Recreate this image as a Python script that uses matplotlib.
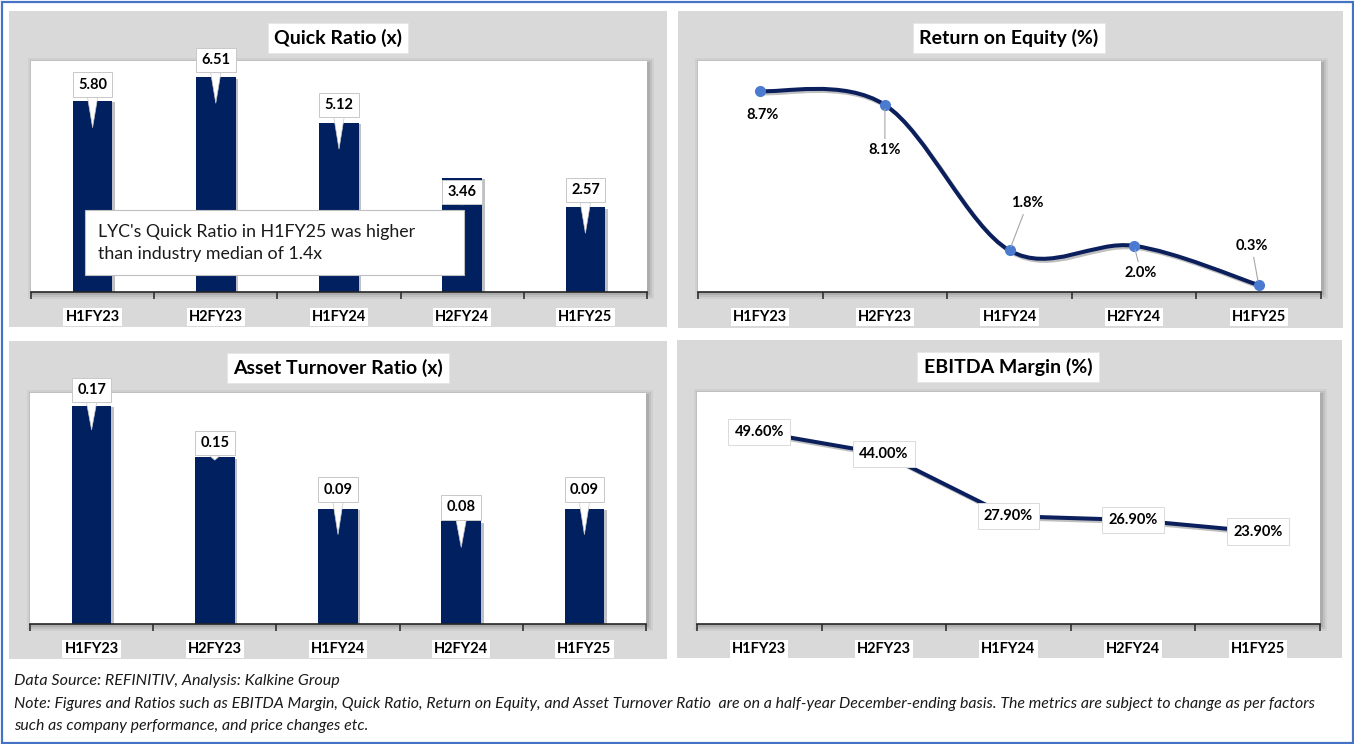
import numpy as np
import matplotlib
matplotlib.use('Agg')  # headless
import matplotlib.pyplot as plt
from matplotlib.patches import Rectangle, PathPatch
from matplotlib.path import Path
from matplotlib.transforms import Affine2D, offset_copy
import matplotlib.patheffects as pe

plt.rcParams['font.family'] = ['Lato', 'DejaVu Sans']

# ---------------------------
# Data
# ---------------------------
periods = ['H1FY23', 'H2FY23', 'H1FY24', 'H2FY24', 'H1FY25']
quick_ratio = [5.80, 6.51, 5.12, 3.46, 2.57]
return_on_equity = [8.7, 8.1, 1.8, 2.0, 0.3]
asset_turnover = [0.17, 0.13, 0.09, 0.08, 0.09]          # bar heights as drawn
asset_turnover_labels = ['0.17', '0.15', '0.09', '0.08', '0.09']
ebitda_margin = [49.6, 44.0, 27.9, 26.9, 23.9]

quick_note = "LYC's Quick Ratio in H1FY25 was higher\nthan industry median of 1.4x"
source_line = 'Data Source: REFINITIV, Analysis: Kalkine Group'
note_lines = [
    'Note: Figures and Ratios such as EBITDA Margin, Quick Ratio, Return on Equity, and Asset Turnover Ratio  '
    'are on a half-year December-ending basis. The metrics are subject to change as per factors',
    'such as company performance, and price changes etc.',
]

# ---------------------------
# Style
# ---------------------------
NAVY = '#002060'
LINE_NAVY = '#0A1F5C'
PANEL_GRAY = '#D9D9D9'
MARKER_BLUE = '#4A7BD0'
BORDER_BLUE = '#4472C4'
BOX_EDGE = '#C8C8C8'
LABEL_SIZE = 10.5

W, H = 1354, 744
fig = plt.figure(figsize=(W / 100, H / 100), dpi=100)
fig.patch.set_facecolor('white')
# pixel coords, origin top-left
pix = Affine2D().scale(1 / W, -1 / H).translate(0, 1) + fig.transFigure


def add_axes_px(l, t, r, b):
    return fig.add_axes([l / W, 1 - b / H, (r - l) / W, (b - t) / H])


def panel(box, plot_box, title, title_xy):
    l, t, r, b = box
    fig.add_artist(Rectangle((l, t), r - l, b - t, transform=pix,
                             fc=PANEL_GRAY, ec='none', zorder=-5))
    pl, pt, pr, pb = plot_box
    # soft shadow round the plot area
    for k, a in [(5, 0.08), (3, 0.12), (1, 0.18)]:
        fig.add_artist(Rectangle((pl - k + 2, pt - k + 2), pr - pl + 2 * k, pb - pt + 2 * k,
                                 transform=pix, fc='#5A5A5A', ec='none', alpha=a, zorder=-4))
    fig.text(title_xy[0], title_xy[1], title, transform=pix, ha='center', va='center',
             fontsize=14, fontweight='bold', color='black', zorder=3,
             bbox=dict(boxstyle='square,pad=0.32', fc='white', ec='#E6E6E6', lw=0.6))
    ax = add_axes_px(*plot_box)
    ax.set_facecolor('white')
    return ax


def style_axis(ax, ylim):
    ax.set_xlim(-0.5, 4.5)
    ax.set_ylim(*ylim)
    for s in ['top', 'left', 'right']:
        ax.spines[s].set_visible(False)
    ax.spines['bottom'].set_color('#262626')
    ax.spines['bottom'].set_linewidth(1.2)
    ax.set_yticks([])
    ax.set_xticks(range(len(periods)))
    ax.set_xticklabels(periods, fontsize=10.5, fontweight='bold')
    ax.set_xticks(np.arange(-0.5, len(periods), 1), minor=True)
    ax.tick_params(axis='x', which='major', length=0, pad=13)
    ax.tick_params(axis='x', which='minor', length=5, width=1.1, color='#262626')
    for lbl in ax.get_xticklabels():
        lbl.set_bbox(dict(fc='white', ec='none', pad=1.5))


def bar_callouts(ax, values, labels, above_px, depth_px):
    for i, (v, lbl, up, dn) in enumerate(zip(values, labels, above_px, depth_px)):
        tip = offset_copy(ax.transData, fig=fig, x=0, y=-dn * 0.72, units='points')
        ax.annotate(lbl, xy=(i, v), xycoords=tip,
                    xytext=(0, (up + dn) * 0.72), textcoords='offset points',
                    ha='center', va='center', fontsize=LABEL_SIZE, fontweight='bold', zorder=4,
                    bbox=dict(boxstyle='square,pad=0.36', fc='white', ec=BOX_EDGE, lw=0.7),
                    arrowprops=dict(arrowstyle='wedge,tail_width=0.7', fc='white',
                                    ec=BOX_EDGE, lw=0.5, shrinkA=0, shrinkB=0))


def smooth_path(xs, ys):
    # Excel-style smoothed line: cubic Bezier segments through every point
    pts = np.column_stack([xs, ys]).astype(float)
    n = len(pts)
    verts, codes = [pts[0]], [Path.MOVETO]
    for i in range(n - 1):
        p0, p1 = pts[max(i - 1, 0)], pts[i]
        p2, p3 = pts[i + 1], pts[min(i + 2, n - 1)]
        verts += [p1 + (p2 - p0) / 6, p2 - (p3 - p1) / 6, p2]
        codes += [Path.CURVE4] * 3
    return Path(verts, codes)


shadow = [pe.SimpleLineShadow(offset=(1.5, -1.5), alpha=0.25), pe.Normal()]
x = np.arange(len(periods))

# ---------------------------
# Quick Ratio
# ---------------------------
ax1 = panel((9, 11, 667, 327), (31, 61, 647, 292), 'Quick Ratio (x)', (338, 38))
ax1.bar(x, quick_ratio, width=0.32, color=NAVY, zorder=2,
        path_effects=[pe.SimplePatchShadow(offset=(2, -1), alpha=0.25), pe.Normal()])
style_axis(ax1, (0, 7))
bar_callouts(ax1, quick_ratio, [f'{v:.2f}' for v in quick_ratio],
             above_px=[16, 17, 18, -14, 17], depth_px=[27, 26, 26, 27, 26])

fig.add_artist(Rectangle((85, 210), 379, 65, transform=pix, fc='white',
                         ec='#BFBFBF', lw=0.8, zorder=5))
fig.text(98, 243, quick_note, transform=pix, ha='left', va='center', fontsize=12.8,
         linespacing=1.4, color='#1A1A1A', zorder=6)

# ---------------------------
# Return on Equity
# ---------------------------
ax2 = panel((678, 11, 1343, 328), (698, 61, 1321, 292), 'Return on Equity (%)', (1009, 38))
style_axis(ax2, (0, 10))
ax2.add_patch(PathPatch(smooth_path(x, return_on_equity), fc='none', ec=LINE_NAVY, lw=2.9,
                        capstyle='round', zorder=3, path_effects=shadow))
ax2.plot(x, return_on_equity, 'o', ms=7, color=MARKER_BLUE, zorder=4)

roe_offsets = [(2, -24), (0, -45), (18, 47), (7, -27), (-7, 39)]
roe_leader = [False, True, True, True, True]
for i, (v, (dx, dy), lead) in enumerate(zip(return_on_equity, roe_offsets, roe_leader)):
    ax2.annotate(f'{v:.1f}%', xy=(i, v), xytext=(dx * 0.72, dy * 0.72),
                 textcoords='offset points', ha='center', va='center',
                 fontsize=LABEL_SIZE, fontweight='bold', zorder=5,
                 arrowprops=dict(arrowstyle='-', color='#A6A6A6', lw=0.8,
                                 shrinkA=1, shrinkB=3) if lead else None)

# ---------------------------
# Asset Turnover Ratio
# ---------------------------
ax3 = panel((9, 341, 667, 659), (30, 393, 646, 624), 'Asset Turnover Ratio (x)', (338, 368))
ax3.bar(x, asset_turnover, width=0.32, color=NAVY, zorder=2,
        path_effects=[pe.SimplePatchShadow(offset=(2, -1), alpha=0.25), pe.Normal()])
style_axis(ax3, (0, 0.18))
bar_callouts(ax3, asset_turnover, asset_turnover_labels,
             above_px=[16, 14, 19, 14, 19], depth_px=[24, 3, 26, 26, 26])

# ---------------------------
# EBITDA Margin
# ---------------------------
ax4 = panel((677, 340, 1342, 658), (697, 392, 1320, 624), 'EBITDA Margin (%)', (1008, 367))
style_axis(ax4, (0, 60))
ax4.plot(x, ebitda_margin, color=LINE_NAVY, lw=2.9, solid_capstyle='round',
         zorder=3, path_effects=shadow)
for i, v in enumerate(ebitda_margin):
    ax4.text(i, v, f'{v:.2f}%', ha='center', va='center', fontsize=LABEL_SIZE, fontweight='bold',
             zorder=5, bbox=dict(boxstyle='square,pad=0.42', fc='white', ec='#DADADA', lw=0.7))

# ---------------------------
# Footer + frame
# ---------------------------
fig.text(14, 681, source_line, transform=pix, ha='left', va='center',
         fontsize=11.6, style='italic', color='#1A1A1A')
for k, line in enumerate(note_lines):
    fig.text(14, 704 + 22 * k, line, transform=pix, ha='left', va='center',
             fontsize=11.4, style='italic', color='#1A1A1A')

fig.add_artist(Rectangle((1.5, 1.5), W - 3, H - 3, transform=pix, fc='none',
                         ec=BORDER_BLUE, lw=1.6, zorder=10))

fig.savefig('out.png', dpi=100)
